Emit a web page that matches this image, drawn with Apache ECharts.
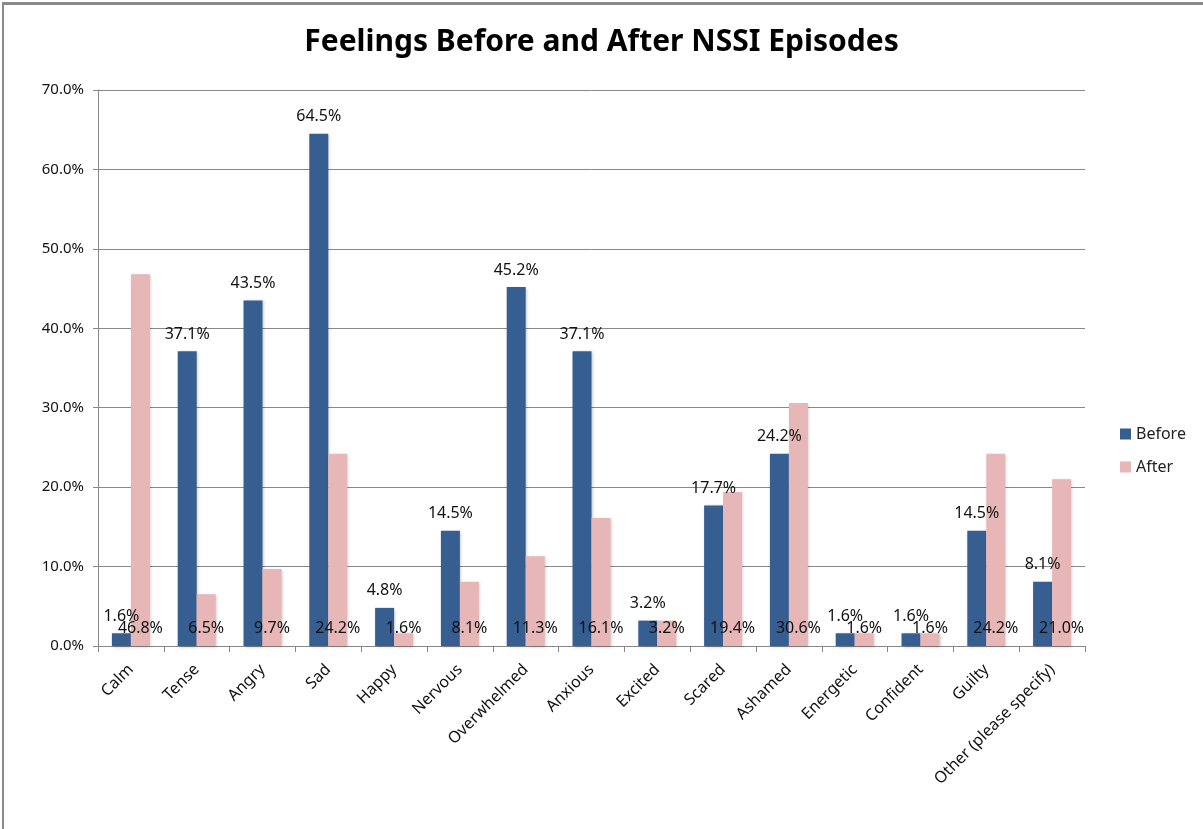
<!doctype html>
<html lang="en">
<head>
	<meta charset="UTF-8">
	<title>Feelings Before and After NSSI Episodes</title>
	<script src="https://cdn.jsdelivr.net/npm/echarts@6/dist/echarts.min.js"></script>
	<style>
		html, body { margin: 0; padding: 0; background: #fff; }
		#frame { position: absolute; left: 2px; top: 2px; width: 1201px; height: 827px;
			border-top: 3px solid #8a8a8a; border-left: 2px solid #8a8a8a; box-sizing: border-box; }
		#chart { position: absolute; left: 0; top: 0; width: 1203px; height: 829px; }
	</style>
</head>
<body>
	<div id="frame"></div>
	<div id="chart"></div>
	<script>
		// data
		var categories = ['Calm', 'Tense', 'Angry', 'Sad', 'Happy', 'Nervous', 'Overwhelmed', 'Anxious',
			'Excited', 'Scared', 'Ashamed', 'Energetic', 'Confident', 'Guilty', 'Other (please specify)'];
		var before = [1.6, 37.1, 43.5, 64.5, 4.8, 14.5, 45.2, 37.1, 3.2, 17.7, 24.2, 1.6, 1.6, 14.5, 8.1];
		var after = [46.8, 6.5, 9.7, 24.2, 1.6, 8.1, 11.3, 16.1, 3.2, 19.4, 30.6, 1.6, 1.6, 24.2, 21.0];

		var font = 'Noto Sans';
		var chart = echarts.init(document.getElementById('chart'));

		function pct(p) { return p.value.toFixed(1) + '%'; }

		option = {
			animation: false,
			title: {
				text: 'Feelings Before and After NSSI Episodes',
				left: 'center',
				top: 22,
				textStyle: { fontFamily: font, fontSize: 30, fontWeight: 'bold', color: '#000' }
			},
			legend: {
				orient: 'vertical',
				left: 1115,
				top: 421,
				itemWidth: 11,
				itemHeight: 11,
				itemGap: 17,
				icon: 'rect',
				textStyle: { fontFamily: font, fontSize: 16, color: '#222' },
				data: ['Before', 'After']
			},
			grid: { left: 98, right: 118, top: 90, bottom: 183, containLabel: false },
			xAxis: {
				type: 'category',
				data: categories,
				axisLine: { lineStyle: { color: '#888' } },
				axisTick: { show: true, length: 6, lineStyle: { color: '#888' } },
				axisLabel: { rotate: 45, interval: 0, margin: 21, fontFamily: font, fontSize: 16, color: '#111' }
			},
			yAxis: {
				type: 'value',
				min: 0,
				max: 70,
				interval: 10,
				axisLine: { show: true, lineStyle: { color: '#888' } },
				axisTick: { show: true, length: 5, lineStyle: { color: '#888' } },
				splitLine: { lineStyle: { color: '#888' } },
				axisLabel: {
					fontFamily: font, fontSize: 15, color: '#111', margin: 14,
					formatter: function (v) { return v.toFixed(1) + '%'; }
				}
			},
			series: [
				{
					name: 'Before',
					type: 'bar',
					data: before,
					barWidth: 19,
					barGap: '0%',
					itemStyle: { color: '#375E91', shadowColor: 'rgba(0,0,0,0.25)', shadowBlur: 3, shadowOffsetX: 1, shadowOffsetY: 1 },
					label: {
						show: true, position: 'top', distance: 9,
						fontFamily: font, fontSize: 16, color: '#111',
						formatter: pct
					}
				},
				{
					name: 'After',
					type: 'bar',
					data: after,
					barWidth: 19,
					itemStyle: { color: '#E6B7B6', shadowColor: 'rgba(0,0,0,0.2)', shadowBlur: 3, shadowOffsetX: 1, shadowOffsetY: 1 },
					label: {
						show: true, position: 'insideBottom', distance: 10,
						fontFamily: font, fontSize: 16, color: '#111',
						formatter: pct
					}
				}
			]
		};
		chart.setOption(option);
	</script>
</body>
</html>
